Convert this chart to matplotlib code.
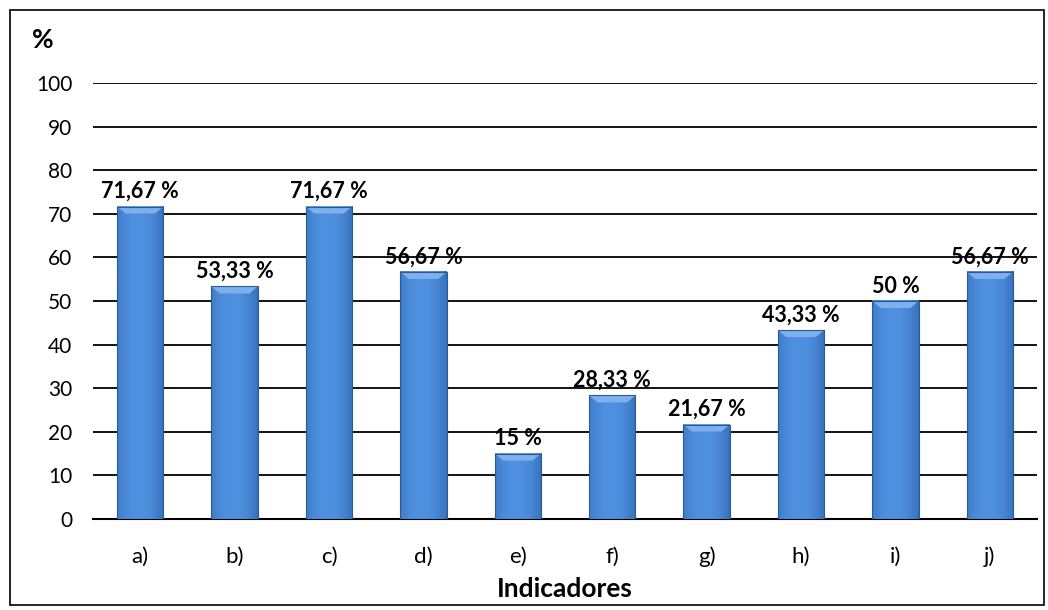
import matplotlib.pyplot as plt
import matplotlib.patches as mpatches
import numpy as np

plt.rcParams['font.family'] = ['Lato', 'DejaVu Sans']

categorias = ['a)', 'b)', 'c)', 'd)', 'e)', 'f)', 'g)', 'h)', 'i)', 'j)']
valores = [71.67, 53.33, 71.67, 56.67, 15, 28.33, 21.67, 43.33, 50, 56.67]
etiquetas = ['71,67 %', '53,33 %', '71,67 %', '56,67 %', '15 %',
             '28,33 %', '21,67 %', '43,33 %', '50 %', '56,67 %']

fig = plt.figure(figsize=(10.48, 6.10), dpi=100)
ax = fig.add_axes([93 / 1048, 1 - 519 / 610, 944 / 1048, 436 / 610 * 1.0])

# borde de la figura
fig.patches.append(mpatches.Rectangle((10 / 1048, 5 / 610), 1034 / 1048, 595 / 610,
                                      transform=fig.transFigure, fill=False,
                                      edgecolor='black', linewidth=1.2))

x = np.arange(len(categorias))
ancho = 0.49

# degradado horizontal para simular el relieve de las barras
grad = np.linspace(0, 1, 64)
perfil = 1 - 0.55 * (2 * np.abs(grad - 0.45)) ** 2
oscuro = np.array([0.17, 0.38, 0.66])
claro = np.array([0.31, 0.57, 0.88])
img = oscuro[None, :] + (claro - oscuro)[None, :] * perfil[:, None]
img = img[None, :, :]

for xi, v in zip(x, valores):
    ax.imshow(img, extent=[xi - ancho / 2, xi + ancho / 2, 0, v], aspect='auto',
              zorder=3, interpolation='bilinear')
    # bisel superior
    h = 1.6
    d = ancho * 0.18
    ax.add_patch(mpatches.Polygon([[xi - ancho / 2, v], [xi + ancho / 2, v],
                                   [xi + ancho / 2 - d, v - h], [xi - ancho / 2 + d, v - h]],
                                  closed=True, facecolor='#7fb0ee', edgecolor='none', zorder=4))
    ax.add_patch(mpatches.Rectangle((xi - ancho / 2, 0), ancho, v, fill=False,
                                    edgecolor='#2a5a96', linewidth=0.8, zorder=4))

for xi, v, t in zip(x, valores, etiquetas):
    ax.text(xi, v + 1.0, t, ha='center', va='bottom', fontsize=15.5,
            fontweight='bold', zorder=5)

ax.set_xlim(-0.5, len(categorias) - 0.5)
ax.set_ylim(0, 100)
ax.set_yticks(range(0, 101, 10))
ax.yaxis.grid(True, color='black', linewidth=1.3, zorder=1)
ax.set_axisbelow(True)
ax.set_xticks(x)
ax.set_xticklabels(categorias)
ax.tick_params(axis='both', length=0)
ax.tick_params(axis='x', pad=20, labelsize=16)
ax.tick_params(axis='y', pad=15, labelsize=15)
for s in ['top', 'right', 'left']:
    ax.spines[s].set_visible(False)
ax.spines['bottom'].set_linewidth(1.5)

ax.set_xlabel('Indicadores', fontsize=19, fontweight='bold', labelpad=7)
fig.text(43 / 1048, 1 - 40 / 610, '%', fontsize=19, fontweight='bold',
         ha='center', va='center')

fig.savefig('out.png', dpi=100)
